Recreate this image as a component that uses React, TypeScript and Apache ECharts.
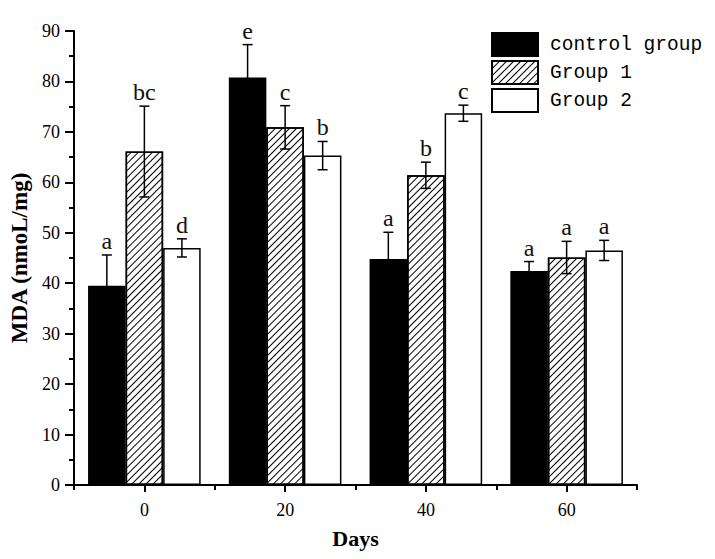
import React, { useEffect, useRef } from 'react';
import * as echarts from 'echarts';

const days = ['0', '20', '40', '60'];
const seriesNames = ['control group', 'Group 1', 'Group 2'];
const controlMean = [39.5, 80.8, 44.8, 42.4];
const controlSD = [6.1, 6.5, 5.3, 1.9];
const group1Mean = [66.1, 70.9, 61.4, 45.1];
const group1SD = [9.0, 4.3, 2.6, 3.2];
const group2Mean = [47.0, 65.3, 73.7, 46.5];
const group2SD = [1.8, 2.8, 1.6, 2.0];
const controlLetters = ['a', 'e', 'a', 'a'];
const group1Letters = ['bc', 'c', 'b', 'a'];
const group2Letters = ['d', 'b', 'c', 'a'];

const means = [controlMean, group1Mean, group2Mean];
const sds = [controlSD, group1SD, group2SD];
const letters = [controlLetters, group1Letters, group2Letters];

export default function App() {
  const ref = useRef<HTMLDivElement>(null);
  useEffect(() => {
    if (!ref.current) return;
    const chart = echarts.init(ref.current, null, { renderer: 'svg' });

    const errData: number[][] = [];
    const errLetters: string[] = [];
    for (let g = 0; g < 3; g++) {
      for (let i = 0; i < days.length; i++) {
        errData.push([i, g, means[g][i], sds[g][i]]);
        errLetters.push(letters[g][i]);
      }
    }

    const serif = '"Liberation Serif", "Times New Roman", serif';
    const barBase = { borderColor: '#000', borderWidth: 1.5 };

    chart.setOption({
      animation: false,
      backgroundColor: '#fff',
      grid: { left: 74, right: 78, top: 31, bottom: 74, containLabel: false },
      legend: {
        orient: 'vertical',
        left: 491,
        top: 32,
        padding: 0,
        itemWidth: 46,
        itemHeight: 23,
        itemGap: 3,
        icon: 'rect',
        data: seriesNames,
        textStyle: {
          fontFamily: '"Liberation Mono", monospace',
          fontSize: 19.5,
          color: '#000',
          padding: [0, 0, 0, 7],
        },
      },
      xAxis: [
        {
          type: 'category',
          data: days,
          position: 'bottom',
          name: 'Days',
          nameLocation: 'middle',
          nameGap: 42,
          nameTextStyle: { fontFamily: serif, fontWeight: 'bold', fontSize: 22, color: '#000' },
          axisLine: { show: true, lineStyle: { color: '#000', width: 2 } },
          axisTick: { show: true, alignWithLabel: true, length: 7, lineStyle: { color: '#000', width: 2 } },
          axisLabel: { fontFamily: serif, fontSize: 18, color: '#000', margin: 16 },
          splitLine: { show: false },
        },
        {
          type: 'category',
          data: days,
          position: 'bottom',
          axisLine: { show: false },
          axisTick: { show: true, alignWithLabel: false, length: 5, lineStyle: { color: '#000', width: 2 } },
          axisLabel: { show: false },
          splitLine: { show: false },
        },
      ],
      yAxis: {
        type: 'value',
        min: 0,
        max: 90,
        interval: 10,
        name: 'MDA (nmoL/mg)',
        nameLocation: 'middle',
        nameGap: 37,
        nameTextStyle: { fontFamily: serif, fontWeight: 'bold', fontSize: 23, color: '#000' },
        axisLine: { show: true, lineStyle: { color: '#000', width: 2 } },
        axisTick: { show: true, length: 9, lineStyle: { color: '#000', width: 2 } },
        minorTick: { show: true, splitNumber: 2, length: 5, lineStyle: { color: '#000', width: 2 } },
        axisLabel: { fontFamily: serif, fontSize: 18, color: '#000', margin: 14 },
        splitLine: { show: false },
      },
      series: [
        {
          name: seriesNames[0],
          type: 'bar',
          data: controlMean,
          barGap: '0%',
          barCategoryGap: '20%',
          itemStyle: { ...barBase, color: '#000' },
        },
        {
          name: seriesNames[1],
          type: 'bar',
          data: group1Mean,
          barGap: '0%',
          barCategoryGap: '20%',
          itemStyle: {
            ...barBase,
            color: '#fff',
            decal: {
              symbol: 'rect',
              symbolSize: 1,
              color: '#000',
              dashArrayX: [1, 0],
              dashArrayY: [1, 3.5],
              rotation: -Math.PI / 4,
            },
          },
        },
        {
          name: seriesNames[2],
          type: 'bar',
          data: group2Mean,
          barGap: '0%',
          barCategoryGap: '20%',
          itemStyle: { ...barBase, color: '#fff' },
        },
        {
          type: 'custom',
          name: 'errors',
          data: errData,
          encode: { x: 0, y: 2 },
          z: 10,
          clip: false,
          renderItem: (params: any, api: any) => {
            const cat = api.value(0);
            const g = api.value(1);
            const mean = api.value(2);
            const sd = api.value(3);
            const band = api.size([1, 0])[0];
            const bw = (band * 0.8) / 3;
            const cx = api.coord([cat, 0])[0] + (g - 1) * bw;
            const yTop = api.coord([cat, mean + sd])[1];
            const yBot = api.coord([cat, mean - sd])[1];
            const cap = 5;
            const st = { stroke: '#000', lineWidth: 1.5 };
            return {
              type: 'group',
              children: [
                { type: 'line', shape: { x1: cx, y1: yTop, x2: cx, y2: yBot }, style: st },
                { type: 'line', shape: { x1: cx - cap, y1: yTop, x2: cx + cap, y2: yTop }, style: st },
                { type: 'line', shape: { x1: cx - cap, y1: yBot, x2: cx + cap, y2: yBot }, style: st },
                {
                  type: 'text',
                  x: cx,
                  y: yTop - 2,
                  style: {
                    text: errLetters[params.dataIndex],
                    fill: '#111',
                    font: '24px "Liberation Serif", serif',
                    align: 'center',
                    verticalAlign: 'bottom',
                  },
                },
              ],
            };
          },
        },
      ],
    });
    return () => chart.dispose();
  }, []);
  return (
    <div
      ref={ref}
      style={{ position: 'fixed', left: 0, top: 0, width: 715, height: 559, background: '#fff' }}
    />
  );
}
